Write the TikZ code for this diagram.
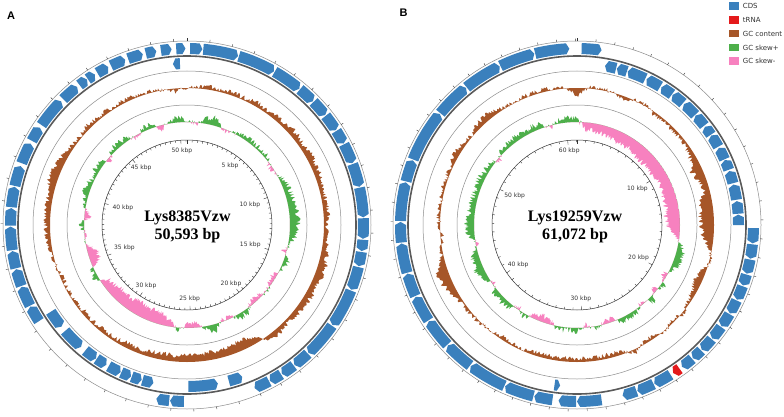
\documentclass[tikz,border=0pt]{standalone}
\usepackage{fontspec}
\setmainfont{Liberation Serif}
\newfontfamily\labfont{DejaVu Sans}
\newfontfamily\panfont{Liberation Sans}
\definecolor{cds}{HTML}{3A80BD}
\definecolor{trna}{HTML}{E41A1C}
\definecolor{gcc}{HTML}{A65628}
\definecolor{skp}{HTML}{4DAF4A}
\definecolor{skm}{HTML}{F781BF}
\definecolor{ringc}{HTML}{8C8C8C}
\definecolor{bbc}{HTML}{5A5A5A}
\definecolor{txtc}{HTML}{333333}
\newcommand\setvals[2]{\foreach \v [count=\i from 0] in {#2} {\expandafter\xdef\csname #1@\i\endcsname{\v}}}
% #1 result name, #2 values, #3 baseline, #4 noise, #5 seed, #6 scale
\newcommand\mkring[6]{%
  \pgfmathsetseed{#5}%
  \gdef\ringtmp{}%
  \foreach \i in {0,...,719}{%
    \pgfmathtruncatemacro\ix{floor(\i/10)}%
    \pgfmathtruncatemacro\iy{\ix+1}%
    \pgfmathsetmacro\fr{(\i-10*\ix)/10}%
    \pgfmathrand\let\nz\pgfmathresult
    \edef\va{\csname #2@\ix\endcsname}\edef\vb{\csname #2@\iy\endcsname}%
    \pgfmathsetmacro\rr{#3+#6*((\va)*(1-\fr)+(\vb)*\fr)+#4*\nz}%
    \pgfmathsetmacro\aa{90-\i/2}%
    \ifnum\i=0 \xdef\ringtmp{(\aa:\rr)}\else\xdef\ringtmp{\ringtmp -- (\aa:\rr)}\fi
  }%
  \global\expandafter\let\csname #1\endcsname\ringtmp}
\newcommand\genef[3][cds]{%
  \pgfmathsetmacro\gha{90-#2}%
  \pgfmathsetmacro\ghh{min(1.0,(#3-#2)/2)}%
  \pgfmathsetmacro\ghb{90-#3+\ghh}%
  \pgfmathsetmacro\ght{90-#3}%
  \fill[#1] (\gha:171) arc[start angle=\gha,end angle=\ghb,radius=171] -- (\ght:176.5) -- (\ghb:182) arc[start angle=\ghb,end angle=\gha,radius=182] -- cycle;}
\newcommand\gener[3][cds]{%
  \pgfmathsetmacro\ghh{min(1.0,(#3-#2)/2)}%
  \pgfmathsetmacro\gha{90-#3}%
  \pgfmathsetmacro\ghb{90-#2-\ghh}%
  \pgfmathsetmacro\ght{90-#2}%
  \fill[#1] (\gha:156) arc[start angle=\gha,end angle=\ghb,radius=156] -- (\ght:161.5) -- (\ghb:167) arc[start angle=\ghb,end angle=\gha,radius=167] -- cycle;}
\newcommand\mapframe{%
  \draw[thinring] (0,0) circle (184);
  \draw[thinring] (0,0) circle (154);
  \draw[thinring] (0,0) circle (120);
  \draw[backbone] (0,0) circle (169);
  \draw[scalering] (0,0) circle (85);}
\tikzset{
  thinring/.style={draw=ringc,line width=0.5pt},
  backbone/.style={draw=bbc,line width=1.6pt},
  scalering/.style={draw=txtc,line width=0.5pt},
  tk/.style={draw=txtc,line width=0.4pt},
  scl/.style={font=\labfont\fontsize{6}{7}\selectfont,text=txtc,inner sep=0.8pt},
  centre/.style={font=\bfseries\fontsize{16}{17}\selectfont,anchor=base},
  legtxt/.style={font=\labfont\fontsize{7}{8}\selectfont,text=txtc,anchor=west,inner sep=0pt},
  panel/.style={font=\panfont\bfseries\fontsize{11}{12}\selectfont}
}
\begin{document}
\begin{tikzpicture}[x=1pt,y=1pt]
\setvals{gcA}{1,3,4,2,5,3,6,4,7,5,8,5,9,6,8,5,4,7,5,3,7,9,11,7,9,6,8,4,7,3,-8,-14,-10,-9,-10,-9,-10,-8,-9,-7,-6,-7,-5,-4,-5,-3,-4,-3,-2,-3,-1,1,3,5,6,7,6,9,12,10,7,4,3,5,4,3,4,3,2,2,-1,-4,1}
\setvals{skA}{2,-2,6,9,-1,-2,3,4,3,4,2,-3,-2,5,6,7,8,10,10,8,3,-4,5,2,-5,-4,2,-4,-5,4,5,-3,-2,9,3,-5,-6,4,-8,-12,-14,-13,-15,-14,-12,-13,-11,-9,5,2,-12,-10,2,-1,4,-6,1,3,8,3,5,6,-3,4,6,3,-3,4,5,-6,3,6,2}
\setvals{gcB}{-10,1,2,1,-4,2,1,-3,-2,-4,-3,-5,-8,-14,-10,-6,-16,-18,-17,-14,-4,3,-6,-10,-5,-3,2,-4,3,-3,-4,4,-3,-5,-4,-6,-3,-5,-4,-6,-3,-2,-4,-3,-2,1,2,3,6,12,16,6,1,-2,1,3,1,4,2,3,7,4,2,6,9,3,1,2,3,4,2,3,-10}
\setvals{skB}{3,-8,-9,-10,-11,-13,-12,-13,-14,-15,-14,-15,-13,-12,-14,-15,-14,-16,-14,-8,3,8,9,4,-6,5,-5,6,-4,3,5,4,-4,-2,3,-3,4,3,4,-3,-7,-6,4,-3,5,6,7,-2,8,10,9,6,-3,8,9,7,8,6,5,7,4,6,-3,5,4,5,4,6,5,-3,5,6,3}
\mkring{ringGA}{gcA}{137}{2.4}{101}{0.75}
\mkring{ringSA}{skA}{103}{2.8}{202}{0.85}
\mkring{ringGB}{gcB}{137}{2.4}{303}{0.75}
\mkring{ringSB}{skB}{103}{2.8}{404}{0.85}
\useasboundingbox (0,0) rectangle (784,416);
\fill[white] (0,0) rectangle (784,416);
% ================= A =================
\begin{scope}[shift={(187,191)}]
  \fill[gcc,even odd rule] \ringGA -- cycle (0,0) circle (137);
  \begin{scope}
    \clip (0,0) circle (103);
    \fill[skm,even odd rule] \ringSA -- cycle (0,0) circle (103);
  \end{scope}
  \begin{scope}[even odd rule]
    \clip (0,0) circle (119) (0,0) circle (103);
    \fill[skp,even odd rule] \ringSA -- cycle (0,0) circle (103);
  \end{scope}
  \mapframe
  \foreach \s/\e in {1/5,5.3/16.8,17.1/29.5,29.8/39.5,39.8/45.5,45.8/51.5,51.8/57.5,57.8/62.5,62.8/69.5,69.8/77.5,77.8/87.5,87.8/94.5,94.8/98.5,98.8/103.5,103.8/111.5,111.8/124.5,124.8/136.5,136.8/142.5,142.8/147.5,147.8/152,152.3/157.5,181/185.5,185.8/190,237/242.5,242.8/249.5,249.8/255.5,255.8/261.5,261.8/269.5,269.8/275.5,275.8/282.5,282.8/289.5,290.5/297.5,298.5/303.5,304.5/314.5,315.5/321.5,322.5/325.5,325.8/328.5,329.5/333.5,334.5/339.5,340.5/345.5,346.5/350,351.5/355,356.5/359.5}
    {\genef{\s}{\e}}
  \foreach \s/\e in {355/357.5,160/165,169/179.5,192/196,196.3/200,200.3/204,204.3/209,210/214,214.3/219,221/229,231/237.5}
    {\gener{\s}{\e}}
  \foreach \k in {0,...,50} {\pgfmathsetmacro\ang{90-\k*7.11561}
    \draw[tk] (\ang:184) -- (\ang:186.5);}
  \foreach \k in {0,...,101} {\pgfmathsetmacro\ang{90-\k*3.55781}
    \pgfmathsetmacro\tl{ifthenelse(mod(\k,10)==0,4,2.2)}
    \draw[tk] (\ang:85) -- (\ang:85-\tl);}
  \foreach \k in {1,...,10} {\pgfmathtruncatemacro\ang{mod(90-\k*35.5780+720,360)}
    \pgfmathtruncatemacro\kb{5*\k}
    \node[scl,anchor=\ang] (la\k) at (\ang:78) {\kb\ kbp};}
\end{scope}
\node[centre] (titleA) at (187.5,194.3) {Lys8385Vzw};
\node[centre] (sizeA) at (187.5,177) {50,593 bp};
% ================= B =================
\begin{scope}[shift={(577,191)}]
  \fill[gcc,even odd rule] \ringGB -- cycle (0,0) circle (137);
  \begin{scope}
    \clip (0,0) circle (103);
    \fill[skm,even odd rule] \ringSB -- cycle (0,0) circle (103);
  \end{scope}
  \begin{scope}[even odd rule]
    \clip (0,0) circle (119) (0,0) circle (103);
    \fill[skp,even odd rule] \ringSB -- cycle (0,0) circle (103);
  \end{scope}
  \mapframe
  \foreach \s/\e in {1.5/8,91/96,96.3/101,101.3/106,106.3/110,110.3/115,115.3/120,120.3/125,125.3/130,130.3/135,135.3/139,139.3/143.5,148/154,154.3/160,160.3/165,172/180,180.3/186,188/194,194.3/204,204.3/217,217.3/227,227.3/237,237.3/246,246.3/254,254.3/264,264.3/271,271.3/284,284.3/291.5,291.8/309,309.3/321,321.3/334,334.3/346,346.3/357.5}
    {\genef{\s}{\e}}
  \genef[trna]{144.5}{147}
  \foreach \s/\e in {10/14,14.3/18,18.3/25,25.5/31,31.5/36,36.3/41,41.5/47,47.3/52,52.5/56,56.3/61,61.5/66,66.3/70,70.5/75,75.5/81,81.5/86,86.3/90,186/188}
    {\gener{\s}{\e}}
  \foreach \k in {0,...,61} {\pgfmathsetmacro\ang{90-\k*5.89469}
    \draw[tk] (\ang:184) -- (\ang:186.5);}
  \foreach \k in {0,...,61} {\pgfmathsetmacro\ang{90-\k*5.89469}
    \pgfmathsetmacro\tl{ifthenelse(mod(\k,10)==0,4,2.2)}
    \draw[tk] (\ang:85) -- (\ang:85-\tl);}
  \foreach \k in {1,...,6} {\pgfmathtruncatemacro\ang{mod(90-\k*58.9469+720,360)}
    \pgfmathtruncatemacro\kb{10*\k}
    \node[scl,anchor=\ang] (lb\k) at (\ang:78) {\kb\ kbp};}
\end{scope}
\node[centre] (titleB) at (575,194.3) {Lys19259Vzw};
\node[centre] (sizeB) at (575,177) {61,072 bp};
% ================= panel letters & legend =================
\node[panel] (pA) at (11,400) {A};
\node[panel] (pB) at (403.5,403) {B};
\foreach \c/\t [count=\i] in {cds/CDS,trna/tRNA,gcc/GC content,skp/GC skew+,skm/GC skew-} {
  \pgfmathsetmacro\yy{409.7-(\i-1)*13.7}
  \fill[\c] (729,\yy-3.8) rectangle (738.5,\yy+3.8);
  \node[legtxt] (leg\i) at (742.7,\yy) {\t};
}
\end{tikzpicture}
\end{document}
